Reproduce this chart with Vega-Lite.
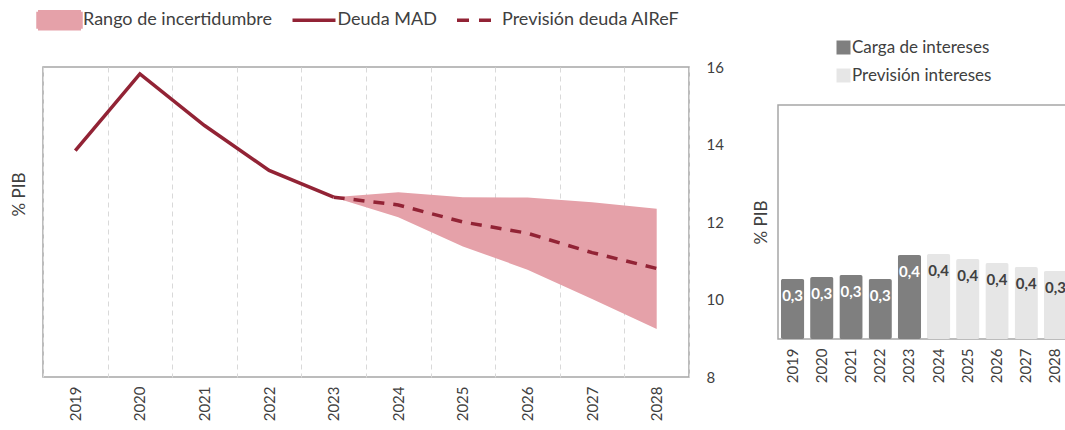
{
  "$schema": "https://vega.github.io/schema/vega-lite/v6.json",
  "background": "white",
  "padding": {"left": 9, "top": 7, "right": 0, "bottom": 0},
  "datasets": {
    "deuda": [
      {"year": "2019", "deuda": 13.84},
      {"year": "2020", "deuda": 15.82},
      {"year": "2021", "deuda": 14.49},
      {"year": "2022", "deuda": 13.33},
      {"year": "2023", "deuda": 12.64, "prev": 12.64, "lo": 12.64, "hi": 12.64},
      {"year": "2024", "prev": 12.44, "lo": 12.12, "hi": 12.77},
      {"year": "2025", "prev": 12.0, "lo": 11.37, "hi": 12.64},
      {"year": "2026", "prev": 11.71, "lo": 10.77, "hi": 12.63},
      {"year": "2027", "prev": 11.21, "lo": 10.01, "hi": 12.51},
      {"year": "2028", "prev": 10.8, "lo": 9.24, "hi": 12.34}
    ],
    "intereses": [
      {"year": "2019", "interes": 0.30, "tipo": "Carga de intereses"},
      {"year": "2020", "interes": 0.31, "tipo": "Carga de intereses"},
      {"year": "2021", "interes": 0.32, "tipo": "Carga de intereses"},
      {"year": "2022", "interes": 0.30, "tipo": "Carga de intereses"},
      {"year": "2023", "interes": 0.42, "tipo": "Carga de intereses"},
      {"year": "2024", "interes": 0.425, "tipo": "Previsión intereses"},
      {"year": "2025", "interes": 0.40, "tipo": "Previsión intereses"},
      {"year": "2026", "interes": 0.38, "tipo": "Previsión intereses"},
      {"year": "2027", "interes": 0.36, "tipo": "Previsión intereses"},
      {"year": "2028", "interes": 0.34, "tipo": "Previsión intereses"}
    ]
  },
  "spacing": 89,
  "bounds": "flush",
  "center": true,
  "hconcat": [
    {
      "width": 646,
      "height": 310,
      "data": {"name": "deuda"},
      "layer": [
        {
          "mark": {"type": "area", "opacity": 1},
          "encoding": {
            "x": {
              "field": "year", "type": "ordinal",
              "scale": {"type": "band", "paddingInner": 0, "paddingOuter": 0},
              "axis": {"title": null, "labelAngle": -90, "tickBand": "extent", "grid": true, "gridDash": [5, 4], "gridColor": "#d9d9d9", "gridWidth": 1, "domain": false, "ticks": false, "labelPadding": 9, "labelFontSize": 15}
            },
            "y": {
              "field": "lo", "type": "quantitative",
              "scale": {"domain": [8, 16], "zero": false, "nice": false},
              "axis": {"orient": "left", "title": "% PIB", "labels": false, "ticks": false, "domain": false, "grid": false, "titlePadding": 15, "titleY": 127}
            },
            "y2": {"field": "hi"},
            "color": {
              "datum": "Rango de incertidumbre", "type": "nominal",
              "scale": {"domain": ["Rango de incertidumbre", "Deuda MAD", "Previsión deuda AIReF"], "range": ["#E5A1A9", "#922335", "#922335"]},
              "legend": {
                "orient": "none", "legendX": 4.5, "legendY": -59,
                "direction": "horizontal", "columns": 3, "title": null,
                "labelFontSize": 18, "labelColor": "#404040", "labelOffset": 11.5, "columnPadding": 12.5, "labelLimit": 400,
                "symbolSize": 400, "symbolType": "M-2.15,-0.85H2.15V0.85H-2.15Z",
                "encode": {
                  "symbols": {
                    "update": {
                      "shape": {"signal": "datum.value === 'Rango de incertidumbre' ? 'M-2.15,-0.85H2.15V0.85H-2.15Z' : 'M-2.15,-0.85M-2.15,0H2.15M2.15,0.85'"},
                      "fill": {"signal": "datum.value === 'Rango de incertidumbre' ? '#E5A1A9' : 'transparent'"},
                      "stroke": {"signal": "datum.value === 'Rango de incertidumbre' ? 'transparent' : '#922335'"},
                      "strokeDash": {"signal": "datum.value === 'Previsión deuda AIReF' ? [12, 10] : [1, 0]"},
                      "strokeWidth": {"value": 3.5},
                      "opacity": {"value": 1}
                    }
                  }
                }
              }
            }
          }
        },
        {
          "mark": {"type": "line", "strokeWidth": 3.5},
          "encoding": {
            "x": {"field": "year", "type": "ordinal"},
            "y": {
              "field": "deuda", "type": "quantitative",
              "axis": {"orient": "right", "title": null, "ticks": false, "tickSize": 0, "domain": false, "grid": false, "values": [8, 10, 12, 14, 16], "labelPadding": 17, "labelFontSize": 15}
            },
            "color": {
              "datum": "Deuda MAD", "type": "nominal",
              "legend": {
                "orient": "none", "legendX": 4.5, "legendY": -59,
                "direction": "horizontal", "columns": 3, "title": null,
                "labelFontSize": 18, "labelColor": "#404040", "labelOffset": 11.5, "columnPadding": 12.5, "labelLimit": 400,
                "symbolSize": 400, "symbolType": "M-2.15,-0.85H2.15V0.85H-2.15Z",
                "encode": {
                  "symbols": {
                    "update": {
                      "shape": {"signal": "datum.value === 'Rango de incertidumbre' ? 'M-2.15,-0.85H2.15V0.85H-2.15Z' : 'M-2.15,-0.85M-2.15,0H2.15M2.15,0.85'"},
                      "fill": {"signal": "datum.value === 'Rango de incertidumbre' ? '#E5A1A9' : 'transparent'"},
                      "stroke": {"signal": "datum.value === 'Rango de incertidumbre' ? 'transparent' : '#922335'"},
                      "strokeDash": {"signal": "datum.value === 'Previsión deuda AIReF' ? [12, 10] : [1, 0]"},
                      "strokeWidth": {"value": 3.5},
                      "opacity": {"value": 1}
                    }
                  }
                }
              }
            }
          }
        },
        {
          "mark": {"type": "line", "strokeWidth": 3.5, "strokeDash": [11, 9]},
          "encoding": {
            "x": {"field": "year", "type": "ordinal"},
            "y": {"field": "prev", "type": "quantitative", "axis": null},
            "color": {
              "datum": "Previsión deuda AIReF", "type": "nominal",
              "legend": {
                "orient": "none", "legendX": 4.5, "legendY": -59,
                "direction": "horizontal", "columns": 3, "title": null,
                "labelFontSize": 18, "labelColor": "#404040", "labelOffset": 11.5, "columnPadding": 12.5, "labelLimit": 400,
                "symbolSize": 400, "symbolType": "M-2.15,-0.85H2.15V0.85H-2.15Z",
                "encode": {
                  "symbols": {
                    "update": {
                      "shape": {"signal": "datum.value === 'Rango de incertidumbre' ? 'M-2.15,-0.85H2.15V0.85H-2.15Z' : 'M-2.15,-0.85M-2.15,0H2.15M2.15,0.85'"},
                      "fill": {"signal": "datum.value === 'Rango de incertidumbre' ? '#E5A1A9' : 'transparent'"},
                      "stroke": {"signal": "datum.value === 'Rango de incertidumbre' ? 'transparent' : '#922335'"},
                      "strokeDash": {"signal": "datum.value === 'Previsión deuda AIReF' ? [12, 10] : [1, 0]"},
                      "strokeWidth": {"value": 3.5},
                      "opacity": {"value": 1}
                    }
                  }
                }
              }
            }
          }
        }
      ],
      "resolve": {"axis": {"y": "independent"}}
    },
    {
      "width": 292,
      "height": 234,
      "data": {"name": "intereses"},
      "layer": [
        {
          "mark": {"type": "bar", "cornerRadius": 2},
          "encoding": {
            "x": {
              "field": "year", "type": "ordinal",
              "scale": {"paddingInner": 0.2, "paddingOuter": 0.1},
              "axis": {"title": null, "labelAngle": -90, "ticks": false, "domain": false, "grid": false, "labelPadding": 9, "labelFontSize": 15}
            },
            "y": {
              "field": "interes", "type": "quantitative",
              "scale": {"domain": [0, 1.17], "nice": false},
              "axis": {"title": "% PIB", "labels": false, "ticks": false, "domain": false, "grid": false, "titlePadding": 8}
            },
            "color": {
              "field": "tipo", "type": "nominal",
              "scale": {"domain": ["Carga de intereses", "Previsión intereses"], "range": ["#7F7F7F", "#E6E6E6"]},
              "legend": {
                "orient": "none", "legendX": 57, "legendY": -66,
                "title": null, "direction": "vertical",
                "symbolType": "square", "symbolSize": 196, "symbolStrokeWidth": 0,
                "labelFontSize": 17, "labelColor": "#404040", "labelOffset": 0, "rowPadding": 10
              }
            }
          }
        },
        {
          "mark": {"type": "text", "baseline": "middle", "dy": 17, "fontWeight": "bold", "fontSize": 15},
          "encoding": {
            "x": {"field": "year", "type": "ordinal"},
            "y": {"field": "interes", "type": "quantitative"},
            "text": {"field": "interes", "type": "quantitative", "format": ".1f"},
            "color": {"condition": {"test": "datum.tipo === 'Carga de intereses'", "value": "white"}, "value": "#404040"}
          }
        }
      ]
    }
  ],
  "resolve": {"scale": {"color": "independent", "x": "independent", "y": "independent"}, "legend": {"color": "independent"}},
  "config": {
    "font": "Lato",
    "locale": {"number": {"decimal": ",", "thousands": ".", "grouping": [3], "currency": ["", " €"]}},
    "view": {"stroke": "#A6A6A6", "strokeWidth": 1.5},
    "axis": {"labelFont": "Lato", "titleFont": "Lato", "labelColor": "#404040", "titleColor": "#404040", "titleFontWeight": "normal", "titleFontSize": 17},
    "legend": {"labelFont": "Lato"},
    "text": {"font": "Lato"}
  }
}
